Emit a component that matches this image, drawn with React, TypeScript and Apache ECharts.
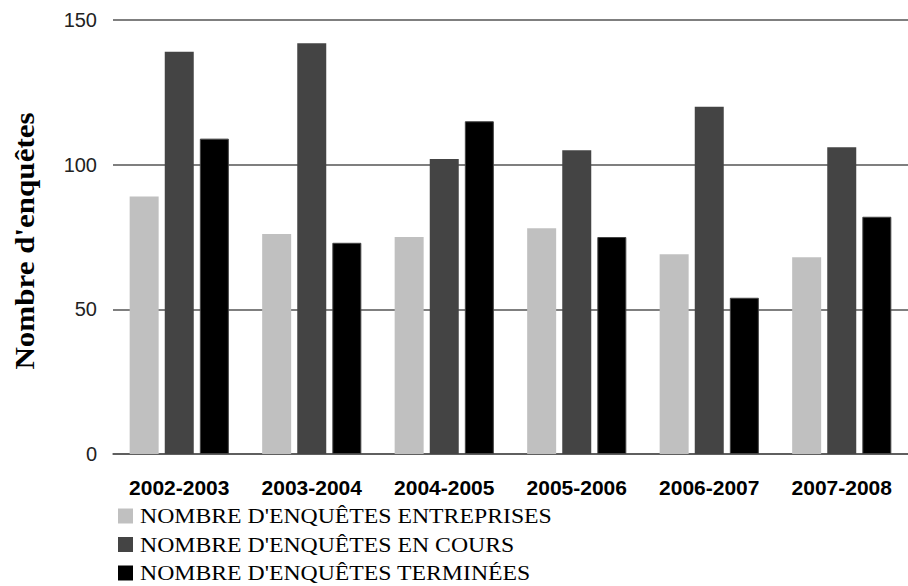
import React, { useEffect, useRef } from "react";
import * as echarts from "echarts";

const categories = ["2002-2003", "2003-2004", "2004-2005", "2005-2006", "2006-2007", "2007-2008"];
const seriesNames = [
  "NOMBRE D'ENQUÊTES ENTREPRISES",
  "NOMBRE D'ENQUÊTES EN COURS",
  "NOMBRE D'ENQUÊTES TERMINÉES",
];
const entreprises = [89, 76, 75, 78, 69, 68];
const enCours = [139, 142, 102, 105, 120, 106];
const terminees = [109, 73, 115, 75, 54, 82];
const colors = ["#C0C0C0", "#444444", "#000000"];
const yTitle = "Nombre d'enquêtes";

export default function App() {
  const ref = useRef<HTMLDivElement>(null);
  useEffect(() => {
    if (!ref.current) return;
    const chart = echarts.init(ref.current, undefined, { renderer: "svg" });
    const values = [entreprises, enCours, terminees];
    const legendItems: any[] = [];
    seriesNames.forEach((name, i) => {
      const cy = 516 + i * 28.5;
      legendItems.push({
        type: "rect",
        shape: { x: 118, y: cy - 7.5, width: 15, height: 15 },
        style: { fill: colors[i] },
      });
      legendItems.push({
        type: "text",
        x: 140,
        y: cy,
        scaleX: 1.08,
        style: {
          text: name,
          fontFamily: "Liberation Serif",
          fontSize: 22,
          lineHeight: 20,
          fill: "#000",
          align: "left",
          verticalAlign: "middle",
        },
      });
    });
    chart.setOption({
      animation: false,
      grid: { left: 113, right: 0, top: 20, bottom: 132, containLabel: false },
      legend: { show: false, data: seriesNames },
      graphic: [
        {
          type: "text",
          x: 25,
          y: 241,
          rotation: Math.PI / 2,
          scaleX: 1.15,
          style: {
            text: yTitle,
            fontFamily: "Liberation Serif",
            fontWeight: "bold",
            fontSize: 27,
            fill: "#000",
            align: "center",
            verticalAlign: "middle",
          },
        },
        ...legendItems,
      ],
      xAxis: {
        type: "category",
        data: categories,
        axisTick: { show: false },
        axisLine: { lineStyle: { color: "#555", width: 1.5 } },
        axisLabel: {
          fontFamily: "Liberation Sans",
          fontWeight: "bold",
          fontSize: 21,
          color: "#000",
          margin: 23,
        },
      },
      yAxis: {
        type: "value",
        min: 0,
        max: 150,
        interval: 50,
        axisLine: { show: false },
        axisTick: { show: false },
        axisLabel: { fontFamily: "Liberation Sans", fontSize: 20, color: "#222", margin: 16 },
        splitLine: { lineStyle: { color: "#555", width: 1.5 } },
      },
      series: values.map((v, i) => ({
        name: seriesNames[i],
        type: "bar",
        data: v,
        barWidth: 29,
        barGap: "21%",
        itemStyle: {
          color: colors[i],
          borderColor: i === 2 ? "#444" : undefined,
          borderWidth: i === 2 ? 1 : 0,
        },
      })),
    });
    return () => chart.dispose();
  }, []);
  return <div ref={ref} style={{ width: 908, height: 586, position: "absolute", left: 0, top: 0 }} />;
}
